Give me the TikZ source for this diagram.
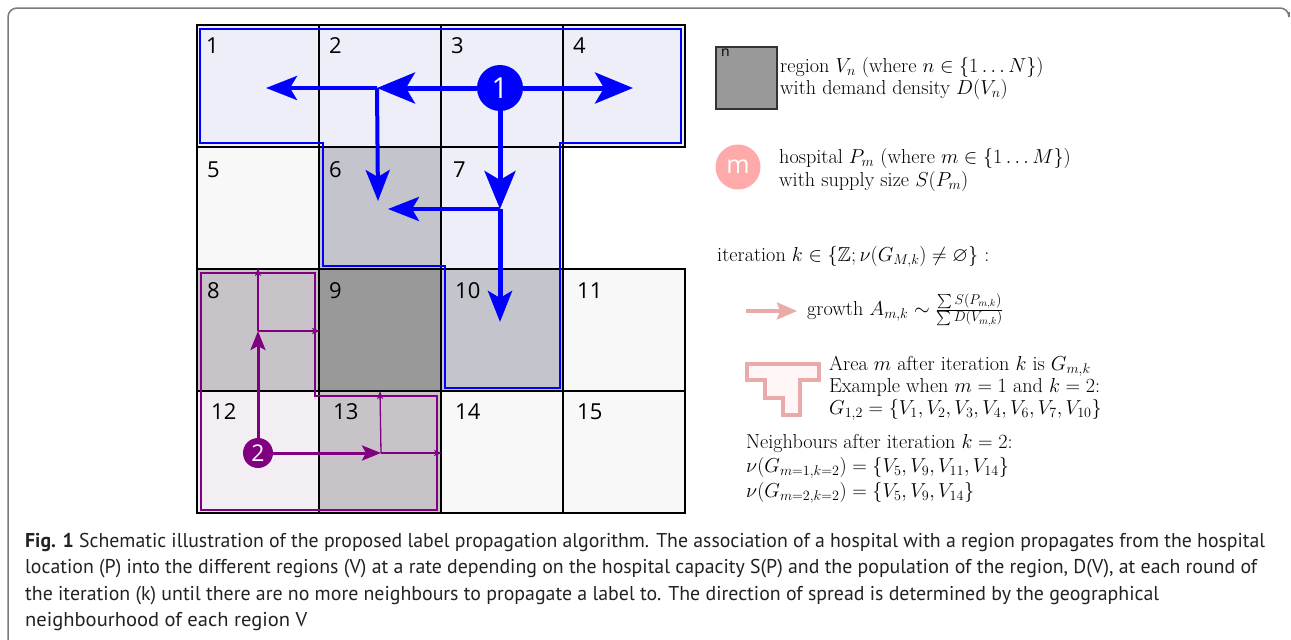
\RequirePackage{fix-cm}
\documentclass[tikz,border=0pt]{standalone}
\usepackage{fontspec}
\usepackage{amsmath,amssymb}
\usepackage{graphicx}
\usetikzlibrary{arrows.meta}
\newfontfamily\osans{Open Sans}
\newfontfamily\capfont{PT Sans}
\definecolor{aone}{HTML}{EEEEF8}
\definecolor{aonedark}{HTML}{C4C4CC}
\definecolor{atwo}{HTML}{F3EEF3}
\definecolor{atwodark}{HTML}{C8C3C8}
\definecolor{emptyc}{HTML}{F8F8F8}
\definecolor{dense}{HTML}{999999}
\definecolor{hblue}{HTML}{0000FF}
\definecolor{hpurple}{HTML}{800080}
\definecolor{pinkfill}{HTML}{FFAAAA}
\definecolor{pinkline}{HTML}{E9AAAA}
\definecolor{pinklight}{HTML}{FFF7F7}
\definecolor{framegray}{HTML}{7A7A7A}
\definecolor{captext}{HTML}{222222}
\begin{document}
\begin{tikzpicture}[x=1pt,y=-1pt,
  cell/.style={draw=black,line width=1.4pt,minimum width=122pt,minimum height=122pt,inner sep=0pt,outer sep=0pt},
  lab/.style={anchor=base west,inner sep=0pt,font=\osans\fontsize{22}{22}\selectfont},
  txt/.style={anchor=base west,inner sep=0pt,font=\fontsize{20.2}{24}\selectfont},
  captxt/.style={anchor=base west,inner sep=0pt,text=captext,font=\capfont\fontsize{20}{24}\selectfont},
  bluebig/.style={draw=hblue,line width=5pt,-{Stealth[length=38pt,width=31pt,inset=9pt]}},
  bluesmall/.style={draw=hblue,line width=4pt,-{Stealth[length=31pt,width=24pt,inset=7pt]}},
  purplemid/.style={draw=hpurple,line width=3pt,-{Stealth[length=19pt,width=15pt,inset=4pt]}},
  purplethin/.style={draw=hpurple,line width=1.3pt,-{Stealth[length=8pt,width=6pt,inset=2pt]}},
  area/.style={line width=1.2pt},
  hosp/.style={circle,inner sep=0pt,text=white,font=\osans}
]
\useasboundingbox (0,0) rectangle (1291,640);
% frame
\draw[framegray,line width=1.5pt,rounded corners=9pt] (8,660) -- (8,8) -- (1289,8) -- (1289,12);
% cells
\node[cell,fill=aone] (c1) at (258,86) {};
\node[cell,fill=aone] (c2) at (380,86) {};
\node[cell,fill=aone] (c3) at (502,86) {};
\node[cell,fill=aone] (c4) at (624,86) {};
\node[cell,fill=emptyc] (c5) at (258,208) {};
\node[cell,fill=aonedark] (c6) at (380,208) {};
\node[cell,fill=aone] (c7) at (502,208) {};
\node[cell,fill=atwodark] (c8) at (258,330) {};
\node[cell,fill=dense] (c9) at (380,330) {};
\node[cell,fill=aonedark] (c10) at (502,330) {};
\node[cell,fill=emptyc] (c11) at (624,330) {};
\node[cell,fill=atwo] (c12) at (258,452) {};
\node[cell,fill=atwodark] (c13) at (380,452) {};
\node[cell,fill=emptyc] (c14) at (502,452) {};
\node[cell,fill=emptyc] (c15) at (624,452) {};
% cell labels
\node[lab] (l1) at (206,53) {1};
\node[lab] (l2) at (329,53) {2};
\node[lab] (l3) at (451,53) {3};
\node[lab] (l4) at (573,53) {4};
\node[lab] (l5) at (207,177) {5};
\node[lab] (l6) at (329,177) {6};
\node[lab] (l7) at (453,177) {7};
\node[lab] (l8) at (207,298) {8};
\node[lab] (l9) at (329,298) {9};
\node[lab] (l10) at (455,298) {10};
\node[lab] (l11) at (577,298) {11};
\node[lab] (l12) at (211,419) {12};
\node[lab] (l13) at (333,419) {13};
\node[lab] (l14) at (455,419) {14};
\node[lab] (l15) at (577,419) {15};
% area outlines
\draw[area,hblue] (200,29) -- (681,29) -- (681,143) -- (560,143) -- (560,388) -- (445,388) -- (445,266) -- (323,266) -- (323,143) -- (200,143) -- cycle;
\draw[area,hpurple] (201,273) -- (315,273) -- (315,396) -- (437,396) -- (437,510) -- (201,510) -- cycle;
% hospitals
\node[hosp,fill=hblue,minimum size=46pt,font=\osans\fontsize{29}{29}\selectfont] (h1) at (500,88) {1};
\node[hosp,fill=hpurple,minimum size=30pt,font=\osans\fontsize{23}{23}\selectfont] (h2) at (258,453) {2};
% blue arrows
\coordinate (j1) at (377,88);
\coordinate (j2) at (500,209);
\coordinate (e1) at (266,88);
\coordinate (e2) at (378,201);
\coordinate (e3) at (633,88);
\coordinate (e4) at (500,322);
\coordinate (e5) at (388,209);
\draw[bluesmall] (j1) -- (e1);
\draw[bluesmall] (j1) -- (e2);
\draw[bluesmall,line width=5pt] (j2) -- (e4);
\draw[bluesmall] (j2) -- (e5);
\draw[bluebig] (h1.west) -- (j1);
\draw[bluebig] (h1.east) -- (e3);
\draw[bluebig] (h1.south) -- (j2);
% purple arrows
\coordinate (p1) at (258,331);
\coordinate (p2) at (381,453);
\coordinate (q1) at (258,268);
\coordinate (q2) at (320,331);
\coordinate (q3) at (380,391);
\coordinate (q4) at (442,453);
\draw[purplethin] (p1) -- (q1);
\draw[purplethin] (p1) -- (q2);
\draw[purplethin] (p2) -- (q3);
\draw[purplethin] (p2) -- (q4);
\draw[purplemid] (h2.north) -- (p1);
\draw[purplemid] (h2.east) -- (p2);
% legend
\node[draw=black!80,line width=1.3pt,fill=dense,minimum width=61pt,minimum height=62pt,inner sep=0pt] (lsq) at (746.5,78) {};
\node[anchor=north west,inner sep=0pt,font=\osans\fontsize{14}{14}\selectfont] (lsqn) at (721,49) {n};
\node[txt] (t1) at (780,72) {region $V_n$ (where $n\in\{1\ldots N\}$)};
\node[txt] (t2) at (780,94) {with demand density $D(V_n)$};
\node[hosp,fill=pinkfill,minimum size=45pt,font=\osans\fontsize{25}{25}\selectfont] (lm) at (738,167) {m};
\node[txt] (t3) at (779,163) {hospital $P_m$ (where $m\in\{1\ldots M\}$)};
\node[txt] (t4) at (779,186) {with supply size $S(P_m)$};
\node[txt] (t5) at (717,261) {iteration $k\in\{\mathbb{Z};\nu(G_{M,k})\neq\varnothing\}$ :};
\coordinate (ga) at (746,311);
\coordinate (gb) at (797,311);
\draw[pinkline,line width=3.5pt,-{Stealth[length=20pt,width=17pt,inset=3pt]}] (ga) -- (gb);
\node[txt] (t6) at (807,315) {growth $A_{m,k}\sim\frac{\sum S(P_{m,k})}{\sum D(V_{m,k})}$};
\draw[pinkline,fill=pinklight,line width=3.5pt] (747,364) -- (819,364) -- (819,380) -- (800,380) -- (800,415) -- (783,415) -- (783,398) -- (765,398) -- (765,380) -- (747,380) -- cycle;
\node[txt] (t7) at (829,370) {Area $m$ after iteration $k$ is $G_{m,k}$};
\node[txt] (t8) at (829,392) {Example when $m=1$ and $k=2$:};
\node[txt] (t9) at (829,414) {$G_{1,2}=\{V_1,V_2,V_3,V_4,V_6,V_7,V_{10}\}$};
\node[txt] (t10) at (746,448) {Neighbours after iteration $k=2$:};
\node[txt] (t11) at (746,472) {$\nu(G_{m=1,k=2})=\{V_5,V_9,V_{11},V_{14}\}$};
\node[txt] (t12) at (746,497) {$\nu(G_{m=2,k=2})=\{V_5,V_9,V_{14}\}$};
% caption
\node[captxt] (cap1) at (25,547) {\resizebox{1240pt}{\height}{\textbf{Fig. 1} Schematic illustration of the proposed label propagation algorithm. The association of a hospital with a region propagates from the hospital}};
\node[captxt] (cap2) at (25,573) {\resizebox{1232pt}{\height}{location (P) into the different regions (V) at a rate depending on the hospital capacity S(P) and the population of the region, D(V), at each round of}};
\node[captxt] (cap3) at (25,600) {\resizebox{1134pt}{\height}{the iteration (k) until there are no more neighbours to propagate a label to. The direction of spread is determined by the geographical}};
\node[captxt] (cap4) at (25,626) {\resizebox{282pt}{\height}{neighbourhood of each region V}};
\end{tikzpicture}
\end{document}
